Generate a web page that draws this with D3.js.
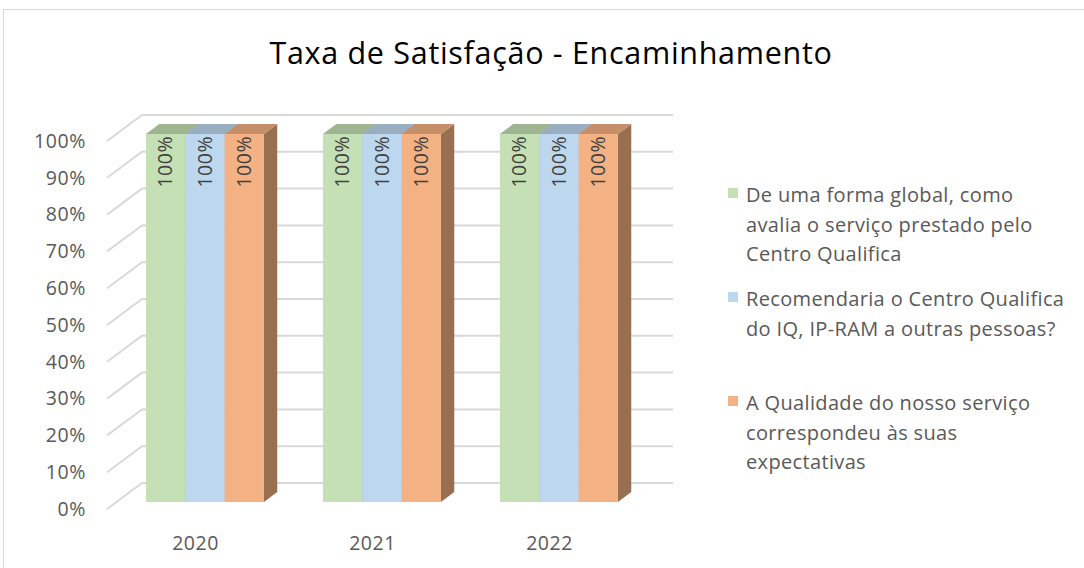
<!DOCTYPE html>
<html>
<head>
<meta charset="utf-8">
<script src="https://cdn.jsdelivr.net/npm/d3@7"></script>
<style>
  body { margin: 0; background: #fff; }
  svg { display: block; font-family: "Open Sans", Lato, sans-serif; }
</style>
</head>
<body>
<svg id="chart" width="1084" height="568"></svg>
<script>
// data
const years = ['2020', '2021', '2022']
const globalRating = [1, 1, 1]
const recommend = [1, 1, 1]
const quality = [1, 1, 1]
const seriesValues = [globalRating, recommend, quality]
const seriesColors = ['#C5E0B4', '#BDD7EE', '#F4B183']
const legendLines = [
  ['De uma forma global, como', 'avalia o serviço prestado pelo', 'Centro Qualifica'],
  ['Recomendaria o Centro Qualifica', 'do IQ, IP-RAM a outras pessoas?'],
  ['A Qualidade do nosso serviço', 'correspondeu às suas', 'expectativas']
]
const yTicks = [0, 0.1, 0.2, 0.3, 0.4, 0.5, 0.6, 0.7, 0.8, 0.9, 1]

const svg = d3.select('#chart')

// chart frame
svg.append('rect')
  .attr('x', 3.5).attr('y', 9.5)
  .attr('width', 1100).attr('height', 580)
  .attr('fill', '#fff')
  .attr('stroke', '#d9d9d9')

svg.append('text')
  .attr('x', 551).attr('y', 64)
  .attr('text-anchor', 'middle')
  .attr('font-size', 30.5)
  .attr('letter-spacing', 0.7)
  .attr('fill', '#000')
  .text('Taxa de Satisfação - Encaminhamento')

// 3d-ish projection: z=0 front of floor, z=1 back wall
const depthX = 35, depthY = 26
const y = d3.scaleLinear().domain([0, 1]).range([509, 141])
const x0 = d3.scaleBand().domain(years).range([107, 638])
const x1 = d3.scaleBand().domain(d3.range(3))
  .range([x0.bandwidth() / 6, x0.bandwidth() * 5 / 6])

function pt(x, v, z) {
  return [x + z * depthX, y(v) - z * depthY]
}

// gridlines
const gridRight = 673
const grid = svg.append('g')
yTicks.forEach(function(t) {
  const a = pt(107, t, 0), b = pt(107, t, 1)
  grid.append('polyline')
    .attr('points', [a, b, [gridRight, b[1]]].map(p => p.join(',')).join(' '))
    .attr('fill', 'none')
    .attr('stroke', '#d9d9d9')
    .attr('stroke-width', 2)
})

// y labels
svg.append('g').selectAll('text')
  .data(yTicks)
  .enter().append('text')
  .attr('x', 86)
  .attr('y', d => y(d))
  .attr('dy', '0.35em')
  .attr('text-anchor', 'end')
  .attr('font-size', 19.5)
  .attr('letter-spacing', 0.6)
  .attr('fill', '#595959')
  .text(d3.format('.0%'))

// bars
const zFront = 0.27, zBack = 0.65
const bars = svg.append('g')
years.forEach(function(yr, i) {
  seriesValues.forEach(function(vals, s) {
    const v = vals[i]
    const xl = x0(yr) + x1(s), xr = xl + x1.bandwidth()
    const c = d3.color(seriesColors[s])
    const fbl = pt(xl, 0, zFront), fbr = pt(xr, 0, zFront)
    const ftl = pt(xl, v, zFront), ftr = pt(xr, v, zFront)
    const btl = pt(xl, v, zBack), btr = pt(xr, v, zBack), bbr = pt(xr, 0, zBack)
    const poly = pts => pts.map(p => p.join(',')).join(' ')

    bars.append('polygon')
      .attr('points', poly([fbr, ftr, btr, bbr]))
      .attr('fill', c.darker(1.3))
    bars.append('polygon')
      .attr('points', poly([ftl, ftr, btr, btl]))
      .attr('fill', c.darker(0.6))
    bars.append('polygon')
      .attr('points', poly([fbl, fbr, ftr, ftl]))
      .attr('fill', seriesColors[s])

    const cx = (ftl[0] + ftr[0]) / 2
    bars.append('text')
      .attr('transform', 'translate(' + cx + ',' + (ftl[1] + 2) + ') rotate(-90)')
      .attr('text-anchor', 'end')
      .attr('dy', '0.35em')
      .attr('font-size', 19.5)
      .attr('letter-spacing', 0.5)
      .attr('fill', '#404040')
      .text(d3.format('.0%')(v))
  })
})

// category labels
svg.append('g').selectAll('text')
  .data(years)
  .enter().append('text')
  .attr('x', d => x0(d) + x0.bandwidth() / 2)
  .attr('y', 543)
  .attr('dy', '0.35em')
  .attr('text-anchor', 'middle')
  .attr('font-size', 19.5)
  .attr('letter-spacing', 0.5)
  .attr('fill', '#595959')
  .text(d => d)

// legend
const legend = svg.append('g').attr('transform', 'translate(728,193)')
legendLines.forEach(function(lines, s) {
  const g = legend.append('g').attr('transform', 'translate(0,' + s * 104 + ')')
  g.append('rect')
    .attr('x', 0).attr('y', -5)
    .attr('width', 10).attr('height', 10)
    .attr('fill', seriesColors[s])
  lines.forEach(function(line, k) {
    g.append('text')
      .attr('x', 18)
      .attr('y', 2 + k * 29.5)
      .attr('dy', '0.35em')
      .attr('font-size', 20)
      .attr('letter-spacing', 0.35)
      .attr('fill', '#595959')
      .text(line)
  })
})
</script>
</body>
</html>
